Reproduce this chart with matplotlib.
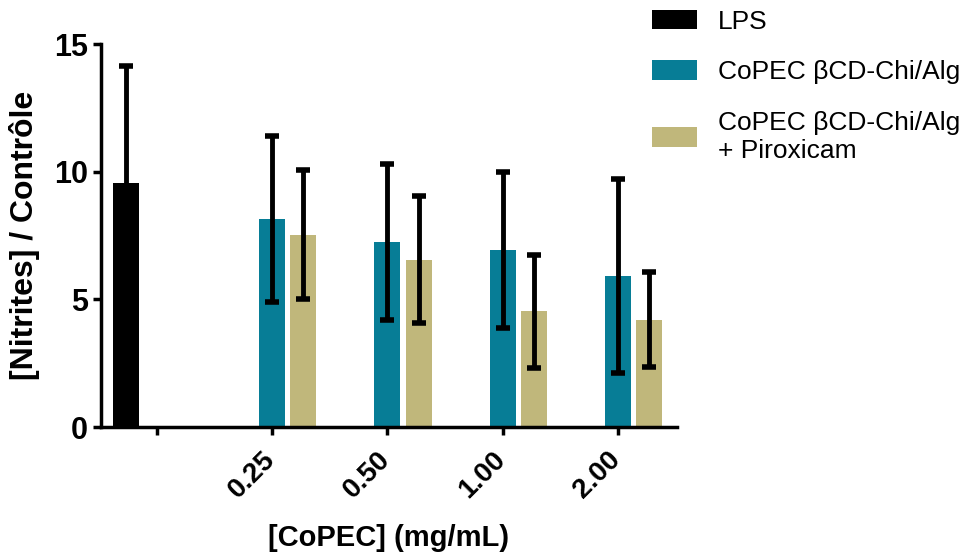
import matplotlib.pyplot as plt
import matplotlib.transforms as mtransforms
import numpy as np

plt.rcParams['font.family'] = ['Liberation Sans', 'DejaVu Sans']

groups = ['', '0.25', '0.50', '1.00', '2.00']
labels = ['LPS', 'CoPEC \u03b2CD-Chi/Alg', 'CoPEC \u03b2CD-Chi/Alg\n+ Piroxicam']
colors = ['#000000', '#077d96', '#c0b77b']

# mean and sd per series, nan = no bar in that group
lps_mean = [9.54, np.nan, np.nan, np.nan, np.nan]
lps_sd = [4.6, np.nan, np.nan, np.nan, np.nan]
chi_mean = [np.nan, 8.14, 7.25, 6.93, 5.91]
chi_sd = [np.nan, 3.26, 3.07, 3.04, 3.80]
pir_mean = [np.nan, 7.54, 6.56, 4.53, 4.21]
pir_sd = [np.nan, 2.54, 2.49, 2.22, 1.86]

fig = plt.figure(figsize=(9.67, 5.53), dpi=100)
ax = fig.add_axes([0.1044, 0.2278, 0.5957, 0.6926])

x = np.arange(len(groups))
w = 0.226
off = 0.27
series = [(lps_mean, lps_sd), (chi_mean, chi_sd), (pir_mean, pir_sd)]
for i, (m, s) in enumerate(series):
    pos = x + (i - 1) * off
    ax.bar(pos, m, width=w, color=colors[i], label=labels[i], zorder=2)
    ax.errorbar(pos, m, yerr=s, fmt='none', ecolor='black', elinewidth=3.5,
                capsize=5, capthick=4, zorder=3)

ax.set_xlim(-0.489, 4.515)
ax.set_ylim(0, 15)
ax.set_yticks([0, 5, 10, 15])
ax.set_xticks(x)

for side in ['top', 'right']:
    ax.spines[side].set_visible(False)
for side in ['left', 'bottom']:
    ax.spines[side].set_linewidth(2.5)
ax.tick_params(width=2.5, length=6)
ax.tick_params(axis='x', pad=8)

ax.set_xticklabels(groups, rotation=45, ha='right', rotation_mode='anchor',
                   fontsize=20, fontweight='bold')
shift = mtransforms.ScaledTranslation(-0.1, 0, fig.dpi_scale_trans)
for t in ax.get_xticklabels():
    t.set_transform(t.get_transform() + shift)
for t in ax.get_yticklabels():
    t.set_fontsize(22)
    t.set_fontweight('bold')

ax.set_ylabel('[Nitrites] / Contrôle', fontsize=23, fontweight='bold', labelpad=10)
ax.set_xlabel('[CoPEC] (mg/mL)', fontsize=21, fontweight='bold', labelpad=15)

fig.legend(loc='upper left', bbox_to_anchor=(652 / 967, 0.982), frameon=False,
           fontsize=19, handlelength=1.7, handleheight=0.75, labelspacing=1.0,
           handletextpad=0.8, borderpad=0, borderaxespad=0)

fig.savefig('out.png', dpi=100)
